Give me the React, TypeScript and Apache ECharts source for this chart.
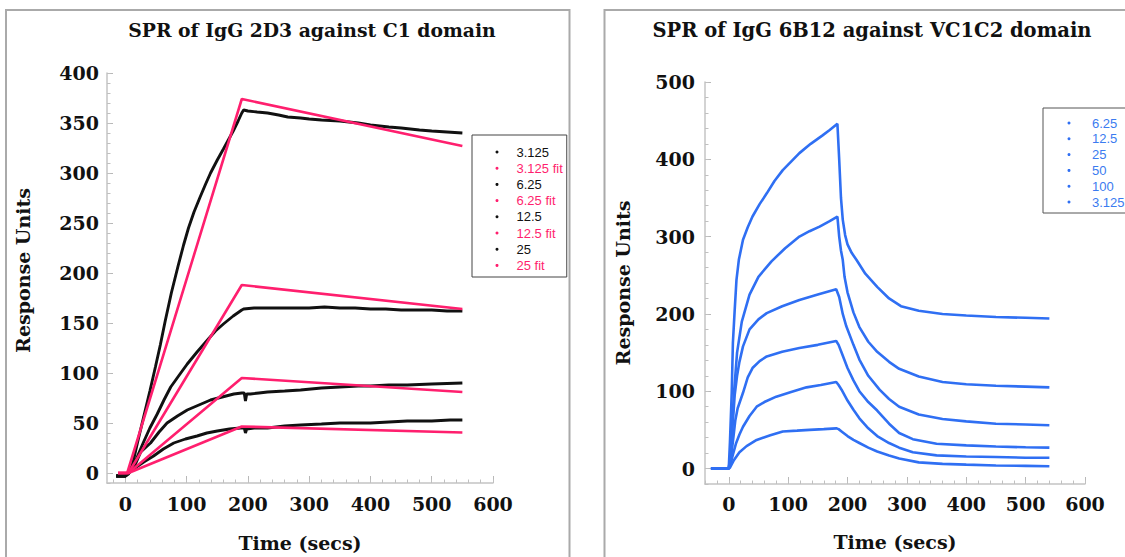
import React, { useEffect, useRef } from "react";
import * as echarts from "echarts";

// ---------- texts ----------
const LEFT_TITLE = "SPR of IgG 2D3 against C1 domain";
const RIGHT_TITLE = "SPR of IgG 6B12 against VC1C2 domain";
const X_NAME = "Time (secs)";
const Y_NAME = "Response Units";

// ---------- tick labels ----------
const leftXTicks = [0, 100, 200, 300, 400, 500, 600];
const leftYTicks = [0, 50, 100, 150, 200, 250, 300, 350, 400];
const rightXTicks = [0, 100, 200, 300, 400, 500, 600];
const rightYTicks = [0, 100, 200, 300, 400, 500];

// ---------- left panel: IgG 2D3 vs C1 (time s, RU) ----------
const leftNames = ["3.125", "3.125 fit", "6.25", "6.25 fit", "12.5", "12.5 fit", "25", "25 fit"];

const c1_3125 = [[-15,-3],[0,-3],[5,0],[13,4],[30,11],[46,17],[62,24],[79,30],[98,34],[117,37],[133,40],[150,42],[170,44],[188,45],[194,45],[196,40],[198,44],[210,45],[232,45],[260,47],[286,48],[320,49],[350,50],[380,50],[400,50],[430,51],[460,52],[500,52],[530,53],[550,53]];
const c1_3125_fit = [[-12,0],[5,0],[190,46.5],[550,40.5]];
const c1_625 = [[-15,-3],[0,-3],[5,0],[13,4],[25,21],[41,30],[55,41],[68,50],[85,57],[101,63],[120,68],[139,73],[158,76],[177,79],[190,80],[194,80],[196,72],[198,79],[204,79],[218,80],[232,81],[260,82],[286,83],[320,85],[350,86],[380,87],[400,87],[430,88],[460,88],[500,89],[550,90]];
const c1_625_fit = [[-12,0],[5,0],[190,95],[550,81]];
const c1_125 = [[-15,-3],[0,-3],[5,0],[11,4],[20,17],[29,30],[40,45],[52,59],[63,73],[74,86],[88,98],[101,109],[117,121],[134,133],[147,142],[160,149],[176,157],[190,163],[193,164],[210,165],[230,165],[250,165],[275,165],[300,165],[325,166],[350,165],[375,165],[400,164],[425,164],[450,163],[475,163],[500,163],[525,162],[550,162]];
const c1_125_fit = [[-12,0],[5,0],[190,188],[550,164]];
const c1_25 = [[-15,-3],[0,-3],[5,-1],[8,2],[13,12],[20,31],[29,54],[40,82],[49,106],[57,128],[65,152],[75,180],[86,207],[95,228],[103,245],[112,261],[122,276],[131,289],[139,300],[150,313],[160,324],[168,333],[176,342],[184,352],[190,360],[193,363],[200,362],[215,361],[232,360],[250,358],[265,356],[286,355],[300,354],[320,353],[350,352],[380,350],[400,348],[430,346],[450,345],[480,343],[500,342],[525,341],[550,340]];
const c1_25_fit = [[-12,0],[3,0],[190,374],[550,327]];

// ---------- right panel: IgG 6B12 vs VC1C2 ----------
const rightNames = ["6.25", "12.5", "25", "50", "100", "3.125"];

const vc_625 = [[-30,0],[0,0],[3,6],[7,18],[12,32],[18,44],[24,54],[35,68],[47,80],[60,86],[80,93],[105,99],[131,105],[155,108],[181,112],[185,108],[190,102],[200,88],[210,76],[220,65],[235,52],[250,42],[270,33],[287,27],[310,21],[350,17],[400,15.5],[450,15],[500,14],[540,14]];
const vc_125 = [[-30,0],[0,0],[3,10],[7,35],[11,62],[15,78],[24,98],[32,118],[40,130],[52,139],[64,145],[90,151],[119,156],[150,160],[181,165],[185,160],[190,150],[200,130],[210,114],[220,100],[235,86],[250,75],[270,58],[287,46],[310,38],[350,32],[400,30],[450,28.5],[500,27.5],[540,27]];
const vc_25 = [[-30,0],[0,0],[3,15],[6,50],[10,95],[14,120],[18,138],[24,158],[35,180],[50,193],[64,201],[90,210],[119,218],[150,225],[181,232],[186,222],[192,200],[198,184],[210,160],[220,141],[235,120],[254,102],[270,90],[287,80],[320,70],[360,64],[400,61],[450,58],[500,57],[540,56]];
const vc_50 = [[-30,0],[0,0],[3,20],[6,60],[9,100],[14,150],[22,190],[35,225],[50,248],[72,268],[95,285],[119,300],[136,307],[153,313],[170,320],[183,326],[186,300],[189,282],[192,270],[195,248],[200,228],[210,202],[220,183],[235,164],[250,151],[270,138],[287,129],[320,119],[360,112],[400,109],[450,107],[500,106],[540,105]];
const vc_100 = [[-30,0],[0,0],[2,34],[5,98],[7,163],[10,205],[13,244],[17,270],[24,296],[32,312],[40,326],[52,342],[64,356],[77,372],[91,386],[105,397],[119,408],[138,420],[158,431],[170,438],[183,446],[186,400],[189,350],[192,322],[196,302],[200,290],[207,279],[215,270],[230,252],[250,235],[270,220],[290,210],[320,204],[360,200],[400,198],[450,196],[500,195],[540,194]];
const vc_3125 = [[-30,0],[0,0],[2,1],[8,10],[18,21],[30,29],[47,37],[70,43],[91,48],[115,49],[136,50],[160,51],[181,52],[185,51],[190,48],[200,42],[210,37],[220,33],[235,27],[250,22],[270,17],[287,13],[320,8],[360,6],[400,5],[450,4],[500,3.5],[540,3]];

const leftData = [c1_3125, c1_3125_fit, c1_625, c1_625_fit, c1_125, c1_125_fit, c1_25, c1_25_fit];
const rightData = [vc_625, vc_125, vc_25, vc_50, vc_100, vc_3125];

const BLACK = "#111111";
const PINK = "#ff1f6e";
const BLUE = "#2f6ff3";
const SERIF = "'DejaVu Serif', Georgia, serif";
const SANS = "'Liberation Sans', Arial, sans-serif";
const AXIS_GRAY = "#c4c4c4";
const RIGHT_PREFIX = "6B12 ";

function range(a: number, b: number, step: number) {
  const out: number[] = [];
  for (let v = a; v <= b; v += step) out.push(v);
  return out;
}

function majorAxis(grid: number, min: number, max: number, pos: string, ticks: number[], margin: number, tickLen: number, name: string, nameGap: number, namePad?: number[]) {
  return {
    gridIndex: grid,
    type: "value",
    min,
    max,
    position: pos,
    axisLine: { show: true, onZero: false, lineStyle: { color: AXIS_GRAY, width: 1.5 } },
    axisTick: { show: true, inside: true, length: tickLen, customValues: ticks, lineStyle: { color: "#b8b8b8", width: 1 } },
    axisLabel: { customValues: ticks, margin, color: "#111", fontFamily: SERIF, fontWeight: "bold", fontSize: 19 },
    splitLine: { show: false },
    name,
    nameLocation: "middle",
    nameGap,
    nameTextStyle: { fontFamily: SERIF, fontWeight: "bold", fontSize: 19, color: "#111", padding: namePad || 0 },
  };
}

function minorAxis(grid: number, min: number, max: number, pos: string, ticks: number[]) {
  return {
    gridIndex: grid,
    type: "value",
    min,
    max,
    position: pos,
    axisLine: { show: false, onZero: false },
    axisTick: { show: true, inside: true, length: 3.5, customValues: ticks, lineStyle: { color: "#c0c0c0", width: 1 } },
    axisLabel: { show: false },
    splitLine: { show: false },
  };
}

export default function App() {
  const ref = useRef<HTMLDivElement>(null);
  useEffect(() => {
    if (!ref.current) return;
    const chart = echarts.init(ref.current, undefined, { renderer: "svg" });

    const leftSeries = leftNames.map((n, i) => ({
      name: n,
      type: "line",
      xAxisIndex: 0,
      yAxisIndex: 0,
      data: leftData[i],
      showSymbol: false,
      symbol: "circle",
      z: n.includes("fit") ? 4 : 3,
      itemStyle: { color: n.includes("fit") ? PINK : BLACK },
      lineStyle: { color: n.includes("fit") ? PINK : BLACK, width: n.includes("fit") ? 2.6 : 2.9 },
    }));
    const rightSeries = rightNames.map((n, i) => ({
      name: RIGHT_PREFIX + n,
      type: "line",
      xAxisIndex: 2,
      yAxisIndex: 2,
      data: rightData[i],
      showSymbol: false,
      symbol: "circle",
      itemStyle: { color: BLUE },
      lineStyle: { color: BLUE, width: 2.6 },
    }));

    chart.setOption({
      animation: false,
      backgroundColor: "#ffffff",
      title: [
        { text: LEFT_TITLE, left: 307, top: 15, textAlign: "center", textStyle: { fontFamily: SERIF, fontWeight: "bold", fontSize: 18.8, color: "#111" } },
        { text: RIGHT_TITLE, left: 867, top: 15, textAlign: "center", textStyle: { fontFamily: SERIF, fontWeight: "bold", fontSize: 19.5, color: "#111" } },
      ],
      grid: [
        { left: 107, top: 73, width: 386, height: 413 },
        { left: 705, top: 82, width: 380, height: 402 },
      ],
      xAxis: [
        majorAxis(0, -30, 600, "bottom", leftXTicks, 11, 7, X_NAME, 50),
        minorAxis(0, -30, 600, "bottom", range(-20, 600, 20)),
        majorAxis(1, -40, 600, "bottom", rightXTicks, 10, 7, X_NAME, 48),
        minorAxis(1, -40, 600, "bottom", range(-40, 600, 20)),
      ],
      yAxis: [
        majorAxis(0, -10, 400, "left", leftYTicks, 8, 6, Y_NAME, 75, [0, 0, 0, 15]),
        minorAxis(0, -10, 400, "left", range(-10, 400, 10)),
        majorAxis(1, -20, 500, "left", rightYTicks, 10, 6, Y_NAME, 73),
        minorAxis(1, -20, 500, "left", range(-20, 500, 20)),
      ],
      legend: [
        {
          orient: "vertical",
          left: 472,
          top: 135,
          icon: "circle",
          itemWidth: 3,
          itemHeight: 3,
          itemGap: 2.2,
          padding: [10, 4, 4.6, 23.5],
          borderColor: "#444",
          borderWidth: 1,
          backgroundColor: "#fff",
          selectedMode: false,
          textStyle: { fontFamily: SANS, fontSize: 13, lineHeight: 14, padding: [0, 0, 0, 13] },
          data: leftNames.map((n) => ({ name: n, textStyle: { color: n.includes("fit") ? PINK : BLACK } })),
        },
        {
          orient: "vertical",
          left: 1043,
          top: 108,
          icon: "circle",
          itemWidth: 3,
          itemHeight: 3,
          itemGap: 1.8,
          padding: [8, 40, 4, 24.5],
          borderColor: "#555",
          borderWidth: 1,
          backgroundColor: "#fff",
          selectedMode: false,
          formatter: (name: string) => name.replace(RIGHT_PREFIX, ""),
          textStyle: { fontFamily: SANS, fontSize: 13, lineHeight: 14, color: "#3b7bf0", padding: [0, 0, 0, 16.5] },
          data: rightNames.map((n) => ({ name: RIGHT_PREFIX + n })),
        },
      ],
      graphic: [
        { type: "rect", z: -10, silent: true, shape: { x: 6, y: 10, width: 563.5, height: 600 }, style: { fill: "none", stroke: "#aaaaaa", lineWidth: 2 } },
        { type: "rect", z: -10, silent: true, shape: { x: 604.5, y: 10, width: 600, height: 600 }, style: { fill: "none", stroke: "#aaaaaa", lineWidth: 2 } },
      ],
      series: [...leftSeries, ...rightSeries],
    });
    return () => chart.dispose();
  }, []);
  return <div ref={ref} style={{ position: "fixed", left: 0, top: 0, width: 1125, height: 557 }} />;
}
